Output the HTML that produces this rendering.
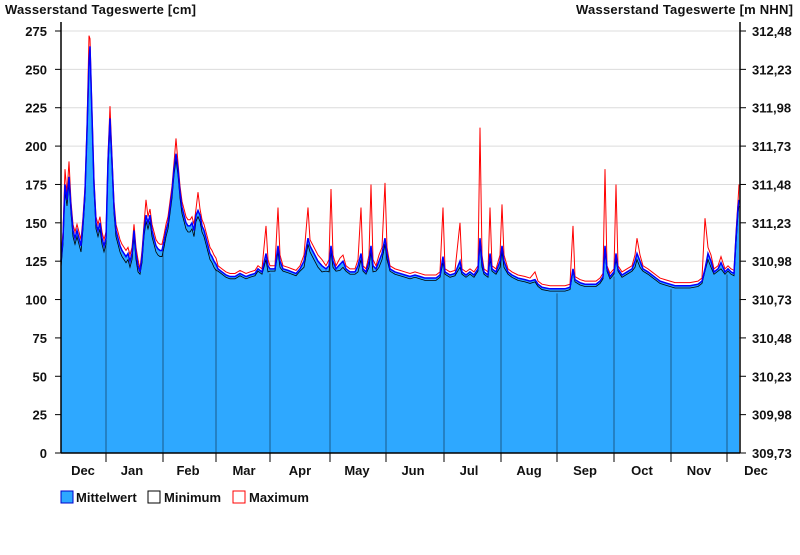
<!DOCTYPE html><html><head><meta charset="utf-8"><style>
body{margin:0;background:#fff;width:800px;height:550px;overflow:hidden;font-family:"Liberation Sans",Arial,sans-serif}
svg text{font-family:"Liberation Sans",Arial,sans-serif;font-weight:bold;font-size:13px;fill:#111}
</style></head><body>
<svg id="s" width="800" height="550" xmlns="http://www.w3.org/2000/svg">
<text x="5" y="14" textLength="191">Wasserstand Tageswerte [cm]</text>
<text x="576" y="14" textLength="217">Wasserstand Tageswerte [m NHN]</text>
<g id="grid"></g><g id="data"></g><g id="axes"></g>
<rect x="61" y="491" width="12" height="12" fill="#2ea8ff" stroke="#0000cc"/>
<text x="76" y="502">Mittelwert</text>
<rect x="148" y="491" width="12" height="12" fill="#fff" stroke="#000"/>
<text x="164" y="502">Minimum</text>
<rect x="233" y="491" width="12" height="12" fill="#fff" stroke="#f00"/>
<text x="249" y="502">Maximum</text>
</svg>
<script>
var NS="http://www.w3.org/2000/svg";
function el(p,t,a){var e=document.createElementNS(NS,t);for(var k in a)e.setAttribute(k,a[k]);p.appendChild(e);return e}
var Y=function(v){return 453-v*422/275};
var g=document.getElementById('grid'),d=document.getElementById('data'),ax=document.getElementById('axes');
var rl=["309,73","309,98","310,23","310,48","310,73","310,98","311,23","311,48","311,73","311,98","312,23","312,48"];
for(var i=0;i<=11;i++){var v=i*25,y=Y(v);
 if(i>0)el(g,'line',{x1:61,x2:740,y1:y,y2:y,stroke:'#dcdcdc'});
 el(ax,'line',{x1:55,x2:61,y1:y,y2:y,stroke:'#000'});
 el(ax,'line',{x1:740,x2:746,y1:y,y2:y,stroke:'#000'});
 var t=el(ax,'text',{x:47,y:y+5,'text-anchor':'end'});t.textContent=v;
 t=el(ax,'text',{x:752,y:y+5});t.textContent=rl[i];}
var P=[[61,125],[63,140],[65,175],[67,165],[69,180],[71,160],[73,145],[75,140],[77,145],[79,140],[81,135],[83,150],[85,170],[87,210],[89,255],[90,265],[92,220],[94,175],[96,150],[98,145],[100,150],[102,140],[104,135],[106,140],[108,190],[110,218],[112,190],[114,160],[116,145],[118,140],[120,135],[122,132],[124,130],[126,128],[128,130],[130,125],[132,130],[134,145],[136,130],[138,122],[140,118],[142,128],[144,145],[146,155],[148,150],[150,155],[152,145],[154,140],[156,135],[158,133],[160,132],[162,132],[164,138],[166,145],[168,150],[170,160],[172,170],[174,185],[176,195],[178,185],[180,170],[182,160],[184,155],[186,150],[188,148],[190,148],[192,150],[194,145],[196,155],[198,158],[200,155],[202,148],[204,145],[206,140],[208,135],[210,130],[212,128],[214,125],[216,123],[218,120],[222,118],[226,116],[230,115],[235,115],[240,117],[243,116],[246,115],[250,116],[255,117],[258,120],[262,118],[266,130],[268,122],[270,120],[275,120],[278,135],[280,125],[283,120],[288,119],[292,118],[296,117],[300,120],[304,125],[308,140],[310,135],[314,130],[318,125],[322,122],[326,120],[329,122],[331,135],[333,125],[336,120],[340,123],[343,125],[346,120],[350,118],[355,118],[358,122],[361,130],[363,120],[366,118],[369,125],[371,135],[373,122],[376,120],[379,125],[382,130],[385,140],[387,130],[390,120],[395,118],[400,117],[405,116],[410,115],[415,116],[420,115],[425,114],[430,114],[436,114],[440,116],[443,128],[445,118],[450,116],[455,117],[460,125],[462,118],[466,116],[470,118],[474,116],[478,120],[480,140],[482,125],[484,118],[488,116],[490,130],[492,120],[496,118],[500,125],[502,135],[504,125],[508,118],[512,116],[518,114],[525,113],[530,112],[535,113],[538,110],[542,108],[550,107],[557,107],[565,107],[570,108],[573,120],[575,113],[580,111],[585,110],[590,110],[596,110],[600,112],[603,115],[605,135],[607,120],[610,115],[614,118],[616,130],[618,120],[622,116],[627,118],[632,120],[635,125],[637,130],[640,125],[643,120],[648,118],[652,116],[656,114],[660,112],[665,111],[670,110],[675,109],[680,109],[690,109],[698,110],[702,112],[705,120],[708,130],[711,125],[714,118],[718,120],[721,124],[725,118],[728,120],[731,118],[734,117],[736,140],[738,160],[739,165]];
var S={65:185,69:190,89:272,90:270,110:226,146:165,176:205,198:170,266:148,278:160,308:160,331:172,361:160,371:175,385:176,443:160,460:150,480:212,490:160,502:162,535:118,573:148,605:185,616:175,637:140,705:153,739:175};
function at(x){for(var i=1;i<P.length;i++){if(P[i][0]>=x){var a=P[i-1],b=P[i];return a[1]+(b[1]-a[1])*(x-a[0])/(b[0]-a[0]);}}return P[P.length-1][1];}
var mean=P.map(function(p){return p[0]+','+Y(p[1])}).join(' ');
var mx=P.map(function(p){var v=S[p[0]]||p[1]+(p[1]>120?4:2);return p[0]+','+Y(v)}).join(' ');
var mn=P.map(function(p){return p[0]+','+Y(p[1]-(p[1]>120?4:1.5))}).join(' ');
el(d,'polygon',{points:'61,453 '+mean+' 739,453',fill:'#2ea8ff'});
[106,163,216,270,330,386,444,501,557,614,671,727].forEach(function(x){
 el(d,'line',{x1:x,x2:x,y1:Y(at(x)-3),y2:453,stroke:'#1a5a88','stroke-width':1});
 el(ax,'line',{x1:x,x2:x,y1:453,y2:462,stroke:'#000'});});
el(d,'polyline',{points:mx,fill:'none',stroke:'#f00','stroke-width':1});
el(d,'polyline',{points:mn,fill:'none',stroke:'#000','stroke-width':0.8});
el(d,'polyline',{points:mean,fill:'none',stroke:'#0000ff','stroke-width':1.5});
el(ax,'line',{x1:61,x2:61,y1:22,y2:453,stroke:'#000','stroke-width':1.5});
el(ax,'line',{x1:740,x2:740,y1:22,y2:453,stroke:'#000','stroke-width':1.5});
el(ax,'line',{x1:61,x2:740,y1:453,y2:453,stroke:'#000','stroke-width':1.5});
var M=[["Dec",83],["Jan",132],["Feb",188],["Mar",244],["Apr",300],["May",357],["Jun",413],["Jul",469],["Aug",529],["Sep",585],["Oct",642],["Nov",699],["Dec",756]];
M.forEach(function(m){var t=el(ax,'text',{x:m[1],y:475,'text-anchor':'middle'});t.textContent=m[0];});
</script></body></html>
